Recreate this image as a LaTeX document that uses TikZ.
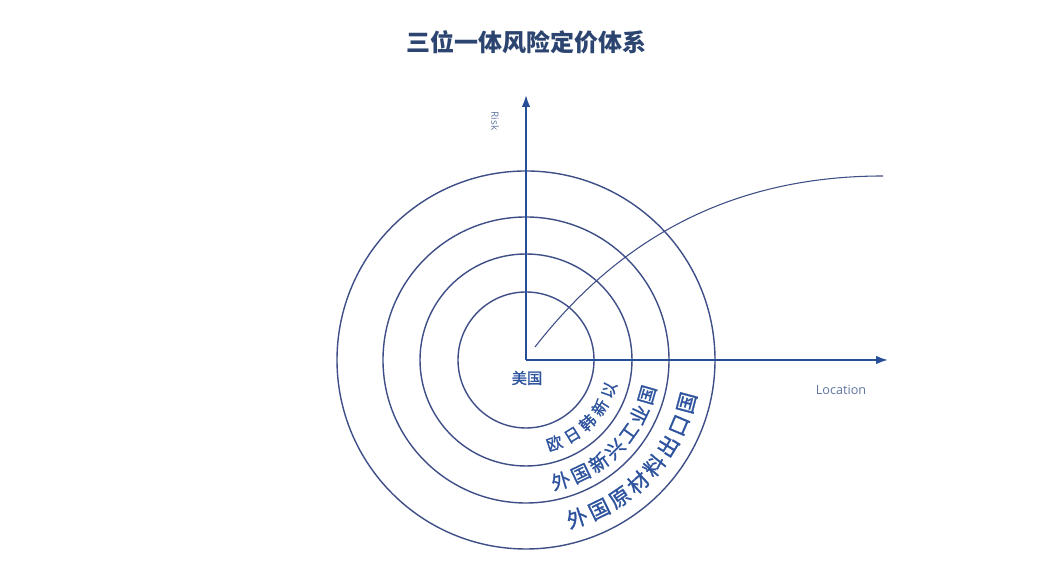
\documentclass[tikz,border=0pt]{standalone}
\usepackage{fontspec}
\setmainfont{Open Sans}
\newfontfamily\cjk{Noto Sans CJK SC}
\newfontfamily\cjkmid[FakeBold=1.2]{Noto Sans CJK SC}
\usepackage{tikz}
\usetikzlibrary{
  decorations.text,%
  calc,%
  arrows.meta,
  positioning
}
\tikzset{>={Latex[length=9pt, width=6.5pt]}}
\definecolor{axisblue}{RGB}{38,78,150}
\definecolor{ringblue}{RGB}{62,78,135}
\definecolor{labelblue}{RGB}{45,82,158}
\definecolor{titleblue}{RGB}{44,68,112}
\definecolor{locgray}{RGB}{98,118,160}
\tikzset{
  axisline/.style={line width=1.5pt, axisblue, ->},
  ring/.style={line width=1.05pt, ringblue},
}

\begin{document}
\begin{tikzpicture}[x=0.75pt, y=0.75pt]
  \fill[white] (0,0) rectangle (1064,580);
  \useasboundingbox (0,0) rectangle (1064,580);
  \begin{scope}[shift={(526,220)}]
    \coordinate (O) at (0,0);
    \coordinate (ytip) at (0,265);
    \coordinate (xtip) at (362,0);
    \node[titleblue, font=\cjk\bfseries\fontsize{18pt}{18pt}\selectfont] (title) at (0,318) {三位一体风险定价体系};
    % rings
    \foreach \r in {68,106,143,189}
      \draw[ring] (O) circle (\r);
    % axes
    \draw[axisline] (O) -- (ytip);
    \draw[axisline] (O) -- (xtip);
    \node[locgray, rotate=-90, font=\fontsize{7.5pt}{7.5pt}\selectfont] (risk) at (-31,239) {Risk};
    \node[locgray, font=\fontsize{9.5pt}{9.5pt}\selectfont] (loc) at (315,-30) {Location};
    % price curve
    \coordinate (cstart) at (9,13);
    \coordinate (cend) at (357,184);
    \draw[ring, line width=0.8pt] (cstart) .. controls (90,117) and (200,184) .. (cend);
    \node[labelblue, font=\cjkmid\fontsize{11.5pt}{11.5pt}\selectfont] (us) at (1,-18) {美国};
    % labels along the rings
    \path[decorate, decoration={text along path, text align={fit to path}, text color=labelblue,
        text={|\cjkmid\fontsize{12pt}{12pt}\selectfont|欧日韩新以}}]
      (-76:94) arc[start angle=-76, end angle=-15, radius=94];
    \path[decorate, decoration={text along path, text align={fit to path}, text color=labelblue,
        text={|\cjkmid\fontsize{14.25pt}{14.25pt}\selectfont|外国新兴工业国}}]
      (-78:133) arc[start angle=-78, end angle=-12, radius=133];
    \path[decorate, decoration={text along path, text align={fit to path}, text color=labelblue,
        text={|\cjkmid\fontsize{15.75pt}{15.75pt}\selectfont|外国原材料出口国}}]
      (-75.5:174) arc[start angle=-75.5, end angle=-11.5, radius=174];
  \end{scope}
\end{tikzpicture}
\end{document}
